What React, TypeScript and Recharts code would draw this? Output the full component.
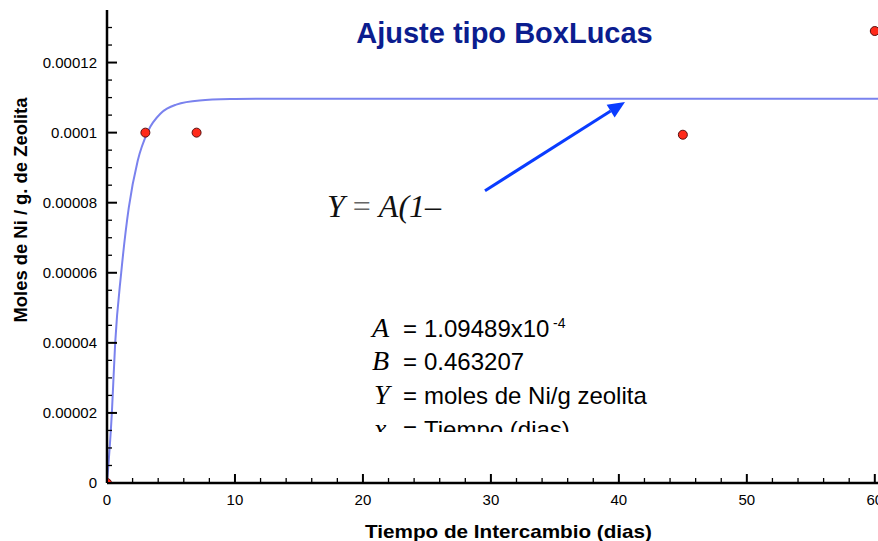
import React from 'react';
import { ComposedChart, Line, Scatter, XAxis, YAxis } from 'recharts';

// Measured points (dias, moles Ni / g zeolita)
const pointDays = [0, 3, 7, 45, 60];
const pointMoles = [0, 0.0001, 0.0001, 0.0000994, 0.000129];

// Fitted BoxLucas curve
const curveDays = [0, 0.38, 0.64, 1.11, 1.7, 2.4, 3.19, 4.23, 5.41, 7.23, 10, 12, 20, 40, 62];
const curveMoles = [0, 0.00002, 0.00004, 0.00006, 0.0000785, 0.000092, 0.0001003, 0.0001056, 0.000108, 0.0001092, 0.0001096, 0.0001097, 0.0001097, 0.0001097, 0.0001097];

const xMajorTicks = [0, 10, 20, 30, 40, 50, 60];
const xMinorTicks = [2, 4, 6, 8, 12, 14, 16, 18, 22, 24, 26, 28, 32, 34, 36, 38, 42, 44, 46, 48, 52, 54, 56, 58];
const yMajorTicks = [0, 0.00002, 0.00004, 0.00006, 0.00008, 0.0001, 0.00012];
const yTickLabels = ['0', '0.00002', '0.00004', '0.00006', '0.00008', '0.0001', '0.00012'];
const yMinorTicks = [0.000005, 0.00001, 0.000015, 0.000025, 0.00003, 0.000035, 0.000045, 0.00005, 0.000055, 0.000065, 0.00007, 0.000075, 0.000085, 0.00009, 0.000095, 0.000105, 0.00011, 0.000115, 0.000125, 0.00013];

const xDomain = [0, 60.25];
const yDomain = [0, 0.000135];

const points = pointDays.map((d, i) => ({ x: d, p: pointMoles[i] }));
const curve = curveDays.map((d, i) => ({ x: d, c: curveMoles[i] }));

const xAllTicks = [...xMajorTicks, ...xMinorTicks].sort((a, b) => a - b);
const yAllTicks = [...yMajorTicks, ...yMinorTicks].sort((a, b) => a - b);

const SANS = '"Liberation Sans", Arial, Helvetica, sans-serif';
const SERIF = '"Liberation Serif", "Times New Roman", serif';

const XTick = (props: any) => {
  const { x, y, payload } = props;
  const v = payload.value;
  const major = xMajorTicks.includes(v);
  return (
    <g>
      <line x1={x} x2={x} y1={y} y2={y - (major ? 9 : 5)} stroke="#000" strokeWidth={major ? 2 : 1.3} />
      {major && (
        <text x={x} y={y + 22} textAnchor="middle" fontFamily={SANS} fontSize={15} fill="#000">
          {String(v)}
        </text>
      )}
    </g>
  );
};

const YTick = (props: any) => {
  const { x, y, payload } = props;
  const v = payload.value;
  const idx = yMajorTicks.indexOf(v);
  const major = idx >= 0;
  return (
    <g>
      <line x1={x} x2={x + (major ? 10 : 5)} y1={y} y2={y} stroke="#000" strokeWidth={major ? 2 : 1.3} />
      {major && (
        <text x={x - 10} y={y} dy="0.36em" textAnchor="end" fontFamily={SANS} fontSize={15} fill="#000">
          {yTickLabels[idx]}
        </text>
      )}
    </g>
  );
};

const Dot = (props: any) => {
  const { cx, cy } = props;
  return <circle cx={cx} cy={cy} r={4.5} fill="#ff2a1a" stroke="#5a1010" strokeWidth={1} />;
};

export default function App() {
  const tip = { x: 625, y: 102 };
  const start = { x: 485, y: 190.7 };
  const dx = tip.x - start.x;
  const dy = tip.y - start.y;
  const len = Math.sqrt(dx * dx + dy * dy);
  const ux = dx / len;
  const uy = dy / len;
  const hl = 17;
  const hw = 7.5;
  const bx = tip.x - ux * hl;
  const by = tip.y - uy * hl;
  const px = -uy;
  const py = ux;

  return (
    <div style={{ position: 'fixed', left: 0, top: 0, width: 878, height: 541, background: '#fff' }}>
      <ComposedChart width={878} height={541} data={curve} margin={{ top: 10, right: 0, bottom: 0, left: 0 }}>
        <XAxis
          xAxisId="top"
          orientation="top"
          type="number"
          dataKey="x"
          domain={xDomain}
          allowDataOverflow
          height={0}
          tick={false}
          tickLine={false}
          axisLine={{ stroke: '#000', strokeWidth: 2 }}
        />
        <XAxis
          type="number"
          dataKey="x"
          domain={xDomain}
          allowDataOverflow
          ticks={xAllTicks}
          interval={0}
          height={58}
          tickSize={0}
          tickMargin={0}
          tickLine={false}
          tick={<XTick />}
          axisLine={{ stroke: '#000', strokeWidth: 2.5 }}
        />
        <YAxis
          type="number"
          domain={yDomain}
          allowDataOverflow
          ticks={yAllTicks}
          interval={0}
          width={107}
          tickSize={0}
          tickMargin={0}
          tickLine={false}
          tick={<YTick />}
          axisLine={{ stroke: '#000', strokeWidth: 2.5 }}
        />
        <Line
          dataKey="c"
          type="monotone"
          stroke="#7a82ee"
          strokeWidth={2}
          dot={false}
          activeDot={false}
          isAnimationActive={false}
        />
        <Scatter data={points} dataKey="p" shape={<Dot />} isAnimationActive={false} />
      </ComposedChart>
      <svg
        width={878}
        height={541}
        style={{ position: 'absolute', left: 0, top: 0, pointerEvents: 'none' }}
      >
        <defs>
          <clipPath id="paramClip">
            <rect x={0} y={0} width={878} height={432} />
          </clipPath>
        </defs>
        <text x={504.5} y={43} textAnchor="middle" fontFamily={SANS} fontWeight="bold" fontSize={29} fill="#0b1d8f">
          Ajuste tipo BoxLucas
        </text>
        <text
          x={508.5}
          y={538}
          textAnchor="middle"
          fontFamily={SANS}
          fontWeight="bold"
          fontSize={19}
          textLength={287}
          lengthAdjust="spacingAndGlyphs"
          fill="#000"
        >
          Tiempo de Intercambio (dias)
        </text>
        <text
          x={0}
          y={0}
          transform="translate(27,210) rotate(-90)"
          textAnchor="middle"
          fontFamily={SANS}
          fontWeight="bold"
          fontSize={18}
          textLength={225}
          lengthAdjust="spacingAndGlyphs"
          fill="#000"
        >
          Moles de Ni / g. de Zeolita
        </text>
        <text x={327} y={217} fontFamily={SERIF} fontSize={32} fill="#111">
          <tspan fontStyle="italic">Y</tspan>
          <tspan fill="#666"> = </tspan>
          <tspan fontStyle="italic">A(1–</tspan>
        </text>
        <line x1={start.x} y1={start.y} x2={bx} y2={by} stroke="#0a3cff" strokeWidth={3} />
        <polygon
          points={`${tip.x},${tip.y} ${bx + px * hw},${by + py * hw} ${bx - px * hw},${by - py * hw}`}
          fill="#0a3cff"
        />
        <g clipPath="url(#paramClip)">
          <text x={372} y={337} fontFamily={SERIF} fontStyle="italic" fontSize={28} fill="#000">A</text>
          <text x={403} y={337} fontFamily={SANS} fontSize={24} fill="#000">=</text>
          <text x={424} y={337} fontFamily={SANS} fontSize={24} fill="#000">1.09489x10</text>
          <text x={553} y={328} fontFamily={SANS} fontSize={14} fill="#000">-4</text>

          <text x={372} y={370} fontFamily={SERIF} fontStyle="italic" fontSize={28} fill="#000">B</text>
          <text x={403} y={370} fontFamily={SANS} fontSize={24} fill="#000">=</text>
          <text x={424} y={370} fontFamily={SANS} fontSize={24} fill="#000">0.463207</text>

          <text x={374} y={404} fontFamily={SERIF} fontStyle="italic" fontSize={28} fill="#000">Y</text>
          <text x={403} y={404} fontFamily={SANS} fontSize={24} fill="#000">=</text>
          <text x={424} y={404} fontFamily={SANS} fontSize={24} fill="#000">moles de Ni/g zeolita</text>

          <text x={374} y={438} fontFamily={SERIF} fontStyle="italic" fontSize={28} fill="#000">x</text>
          <text x={403} y={438} fontFamily={SANS} fontSize={24} fill="#000">=</text>
          <text x={424} y={438} fontFamily={SANS} fontSize={24} fill="#000">Tiempo (dias)</text>
        </g>
      </svg>
    </div>
  );
}
